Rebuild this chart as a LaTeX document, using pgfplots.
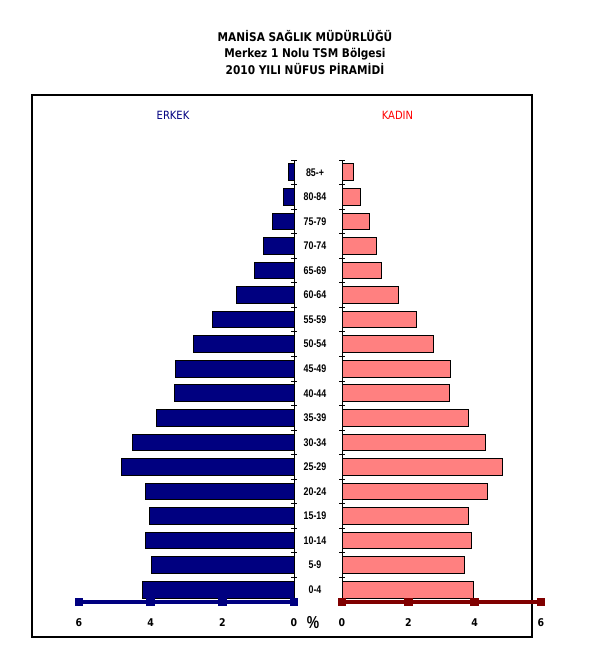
\documentclass[border=0pt]{standalone}
\usepackage{fontspec}
\setmainfont{DejaVu Sans}
\newfontfamily\tahoma[FakeStretch=0.88]{DejaVu Sans}
\newfontfamily\narrow[FakeStretch=0.8]{Liberation Sans}
\usepackage{pgfplots}
\pgfplotsset{compat=1.18}
\definecolor{erkek}{HTML}{000080}
\definecolor{kadin}{HTML}{FF8080}
\definecolor{kadinaxis}{HTML}{800000}

\pgfplotsset{pyr/.style={
    scale only axis, height=331.5pt,
    ymin=-0.5, ymax=17.5,
    bar width=12.5pt, clip=false,
    axis line style={draw=none},
    xtick style={draw=none},
    xtick pos=left,
    ytick={-0.5,0.5,...,17.5},
    tick align=center, major tick length=4.5pt,
    tick style={black, line width=0.6pt},
    xticklabel style={font=\tahoma\bfseries\fontsize{8}{9}\selectfont, yshift=-7pt},
}}

\begin{document}
\begin{tikzpicture}
\path[use as bounding box] (0,0) rectangle (457.5pt,483.75pt);
\draw[line width=1.9pt] (24pt,6pt) rectangle (399pt,412.5pt);
\node[align=center, font=\tahoma\bfseries\fontsize{9}{12.4}\selectfont]
    at (228.75pt,444.5pt) {MANİSA SAĞLIK MÜDÜRLÜĞÜ\\Merkez 1 Nolu TSM Bölgesi\\2010 YILI NÜFUS PİRAMİDİ};
\node[font=\tahoma\fontsize{8.5}{9}\selectfont, text=erkek] at (129.75pt,397.5pt) {ERKEK};
\node[font=\tahoma\fontsize{8.5}{9}\selectfont, text=red] at (298.1pt,397.5pt) {KADIN};
\node[font=\narrow\bfseries\fontsize{13}{14}\selectfont] at (234.75pt,16.5pt) {\%};

% ERKEK (left)
\begin{axis}[pyr,
    at={(59.25pt,32.25pt)}, anchor=south west, width=161.25pt,
    xmin=-6, xmax=0,
    xtick={-6,-4,-2,0}, xticklabels={6,4,2,0},
    ytick pos=right, yticklabels={},
]
\addplot[xbar, fill=erkek, draw=black, line width=0.7pt] coordinates {
    (-4.22,0) (-3.99,1) (-4.15,2) (-4.04,3) (-4.15,4) (-4.82,5)
    (-4.52,6) (-3.85,7) (-3.34,8) (-3.32,9) (-2.81,10) (-2.28,11)
    (-1.61,12) (-1.11,13) (-0.86,14) (-0.61,15) (-0.30,16) (-0.16,17)
};
\draw[black, line width=0.6pt] (axis cs:0,-0.5) -- (axis cs:0,17.5);
\addplot[erkek, line width=3pt, mark=square*, mark size=1.7pt] coordinates {
    (-6,-0.5) (-4,-0.5) (-2,-0.5) (0,-0.5)
};
\end{axis}

% KADIN (right)
\begin{axis}[pyr,
    at={(256.5pt,32.25pt)}, anchor=south west, width=149.25pt,
    xmin=0, xmax=6, xtick={0,2,4,6}, xticklabels={0,2,4,6},
    ytick pos=left,
    yticklabels={0-4,5-9,10-14,15-19,20-24,25-29,30-34,35-39,40-44,45-49,
        50-54,55-59,60-64,65-69,70-74,75-79,80-84,85-+,{}},
    yticklabel style={font=\narrow\bfseries\fontsize{8.3}{9}\selectfont,
        anchor=center, xshift=-18pt, yshift=9.2pt},
]
\addplot[xbar, fill=kadin, draw=black, line width=0.7pt] coordinates {
    (3.96,0) (3.69,1) (3.90,2) (3.80,3) (4.39,4) (4.83,5)
    (4.33,6) (3.80,7) (3.23,8) (3.26,9) (2.75,10) (2.24,11)
    (1.70,12) (1.18,13) (1.03,14) (0.82,15) (0.55,16) (0.34,17)
};
\draw[black, line width=0.6pt] (axis cs:0,-0.5) -- (axis cs:0,17.5);
\addplot[kadinaxis, line width=3pt, mark=square*, mark size=1.7pt] coordinates {
    (0,-0.5) (2,-0.5) (4,-0.5) (6,-0.5)
};
\end{axis}
\end{tikzpicture}
\end{document}
